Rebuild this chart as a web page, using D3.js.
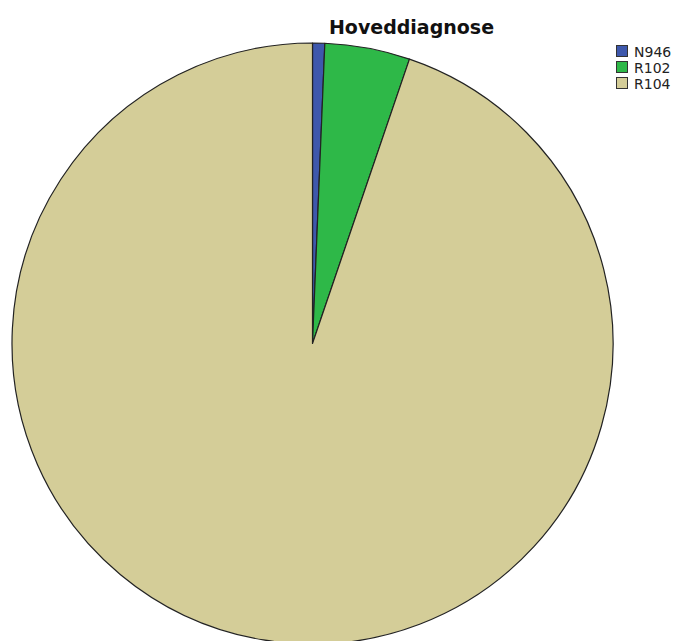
<!DOCTYPE html>
<html>
<head>
<meta charset="utf-8">
<script src="https://cdn.jsdelivr.net/npm/d3@7"></script>
<style>
  html, body { margin: 0; padding: 0; background: #fff; }
  svg { display: block; }
</style>
</head>
<body>
<svg id="chart" width="673" height="641"></svg>
<script>
// Diagnosis codes and their case counts
const categories = ["N946", "R102", "R104"];
const counts = [1, 7, 145];
const colors = ["#3E58AC", "#2EB848", "#D4CD98"];

const svg = d3.select("#chart");
const cx = 312.5, cy = 343.5, radius = 300.5;

const color = d3.scaleOrdinal().domain(categories).range(colors);

const pie = d3.pie().sort(null).value(d => d.value);
const arc = d3.arc().innerRadius(0).outerRadius(radius);

const data = categories.map((c, i) => ({ key: c, value: counts[i] }));

svg.append("g")
  .attr("transform", `translate(${cx},${cy})`)
  .selectAll("path")
  .data(pie(data))
  .join("path")
  .attr("d", arc)
  .attr("fill", d => color(d.data.key))
  .attr("stroke", "#222")
  .attr("stroke-width", 1.2)
  .attr("stroke-linejoin", "round");

// Title
svg.append("text")
  .attr("x", 411.5)
  .attr("y", 34)
  .attr("text-anchor", "middle")
  .attr("font-family", "'DejaVu Sans', sans-serif")
  .attr("font-weight", "bold")
  .attr("font-size", 19)
  .attr("fill", "#111")
  .text("Hoveddiagnose");

// Legend
const legend = svg.append("g").attr("transform", "translate(616,45)");
const item = legend.selectAll("g")
  .data(categories)
  .join("g")
  .attr("transform", (d, i) => `translate(0,${i * 16})`);

item.append("rect")
  .attr("x", 0.5).attr("y", 0.5)
  .attr("width", 11).attr("height", 11)
  .attr("fill", d => color(d))
  .attr("stroke", "#333")
  .attr("stroke-width", 1);

item.append("text")
  .attr("x", 18)
  .attr("y", 11.5)
  .attr("font-family", "'DejaVu Sans', sans-serif")
  .attr("font-size", 14)
  .attr("fill", "#222")
  .text(d => d);
</script>
</body>
</html>
